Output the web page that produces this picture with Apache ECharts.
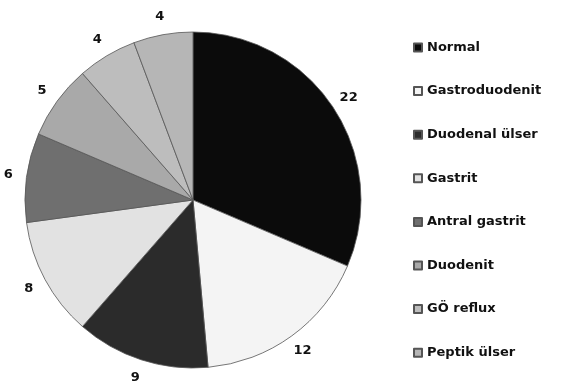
<!DOCTYPE html>
<html>
<head>
<meta charset="utf-8">
<script src="https://cdn.jsdelivr.net/npm/echarts@6/dist/echarts.min.js"></script>
<style>
  html, body { margin: 0; padding: 0; background: #fff; }
  #chart { width: 563px; height: 389px; }
</style>
</head>
<body>
<div id="chart"></div>
<script>
// data
const categories = ['Normal', 'Gastroduodenit', 'Duodenal ülser', 'Gastrit', 'Antral gastrit', 'Duodenit', 'GÖ reflux', 'Peptik ülser']
const values = [22, 12, 9, 8, 6, 5, 4, 4]
const colors = ['#0b0b0b', '#f4f4f4', '#2b2b2b', '#e2e2e2', '#6f6f6f', '#a9a9a9', '#bdbdbd', '#b6b6b6']

let myChart = echarts.init(document.getElementById('chart'))

const labelFont = {
  fontFamily: 'DejaVu Sans, sans-serif',
  fontWeight: 'bold',
  fontSize: 13,
  color: '#111'
}

let option = {
  animation: false,
  backgroundColor: '#fff',
  legend: {
    orient: 'vertical',
    left: 413,
    top: 41,
    padding: 0,
    itemWidth: 8,
    itemHeight: 8,
    itemGap: 30.6,
    icon: 'rect',
    textStyle: labelFont,
    data: categories
  },
  series: [
    {
      type: 'pie',
      center: [193, 200],
      radius: 168,
      startAngle: 90,
      clockwise: true,
      itemStyle: {
        borderColor: '#555',
        borderWidth: 0.8
      },
      label: { show: false },
      labelLine: { show: false },
      emphasis: { disabled: true },
      data: categories.map((name, i) => ({
        name: name,
        value: values[i],
        itemStyle: { color: colors[i] }
      }))
    },
    // invisible ring just outside the pie, only to hold the value labels
    {
      type: 'pie',
      center: [193, 200],
      radius: [170, 197],
      startAngle: 90,
      clockwise: true,
      silent: true,
      itemStyle: { color: 'rgba(0,0,0,0)', borderWidth: 0 },
      label: Object.assign({ show: true, position: 'inside', formatter: '{c}' }, labelFont),
      labelLine: { show: false },
      emphasis: { disabled: true },
      data: categories.map((name, i) => ({ name: name, value: values[i] }))
    }
  ]
}
myChart.setOption(option)
</script>
</body>
</html>
